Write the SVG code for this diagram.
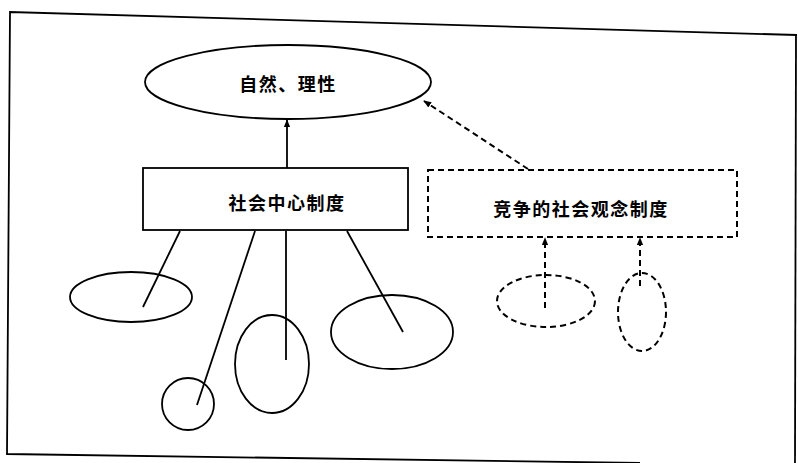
<svg xmlns="http://www.w3.org/2000/svg" width="798" height="463" viewBox="0 0 798 463">
<defs>
<style>
.s{fill:none;stroke:#000;stroke-width:1.8}
.d{fill:none;stroke:#000;stroke-width:2;stroke-dasharray:6 4}
.t{font-family:"Noto Sans CJK SC","Noto Sans",sans-serif;font-size:18px;font-weight:700;fill:#000;text-anchor:middle;dominant-baseline:central;letter-spacing:1.5px}
</style>
<marker id="ah" viewBox="0 0 10 10" refX="9" refY="5" markerWidth="8" markerHeight="8" orient="auto" markerUnits="userSpaceOnUse">
<path d="M0,1 L10,5 L0,9 Z" fill="#000"/>
</marker>
</defs>
<rect width="798" height="463" fill="#fff"/>
<g id="frame">
<polyline class="s" points="797,35 10,12 7,454 640,463" stroke-width="2.2"/>
<line class="s" x1="796" y1="35" x2="795" y2="463" stroke-width="2.2"/>
</g>
<g id="connectors">
<line class="s" x1="287" y1="168" x2="287" y2="120" marker-end="url(#ah)"/>
<line class="d" x1="528" y1="169" x2="424" y2="101" marker-end="url(#ah)"/>
<line class="s" x1="180" y1="231" x2="143" y2="307"/>
<line class="s" x1="255" y1="231" x2="197" y2="405"/>
<line class="s" x1="286" y1="231" x2="286" y2="360"/>
<line class="s" x1="347" y1="231" x2="403" y2="332"/>
<line class="d" x1="545" y1="308" x2="545" y2="238" marker-end="url(#ah)"/>
<line class="d" x1="640" y1="286" x2="640" y2="238" marker-end="url(#ah)"/>
</g>
<g id="n-nature">
<ellipse class="s" cx="288" cy="82" rx="143" ry="37"/>
<text class="t" x="288" y="83">自然、理性</text>
</g>
<g id="n-central">
<rect class="s" x="143" y="168" width="265" height="62"/>
<text class="t" x="287" y="202">社会中心制度</text>
</g>
<g id="n-competing">
<rect class="d" x="428" y="170" width="309" height="67"/>
<text class="t" x="581" y="208">竞争的社会观念制度</text>
</g>
<g id="e1"><ellipse class="s" cx="131" cy="297" rx="61" ry="25"/></g>
<g id="e2"><circle class="s" cx="188" cy="404" r="26"/></g>
<g id="e3"><ellipse class="s" cx="272" cy="364" rx="37" ry="49"/></g>
<g id="e4"><ellipse class="s" cx="392" cy="332" rx="61" ry="37"/></g>
<g id="e5"><ellipse class="d" cx="546" cy="301" rx="49" ry="26"/></g>
<g id="e6"><ellipse class="d" cx="642" cy="312" rx="24" ry="39"/></g>
</svg>
